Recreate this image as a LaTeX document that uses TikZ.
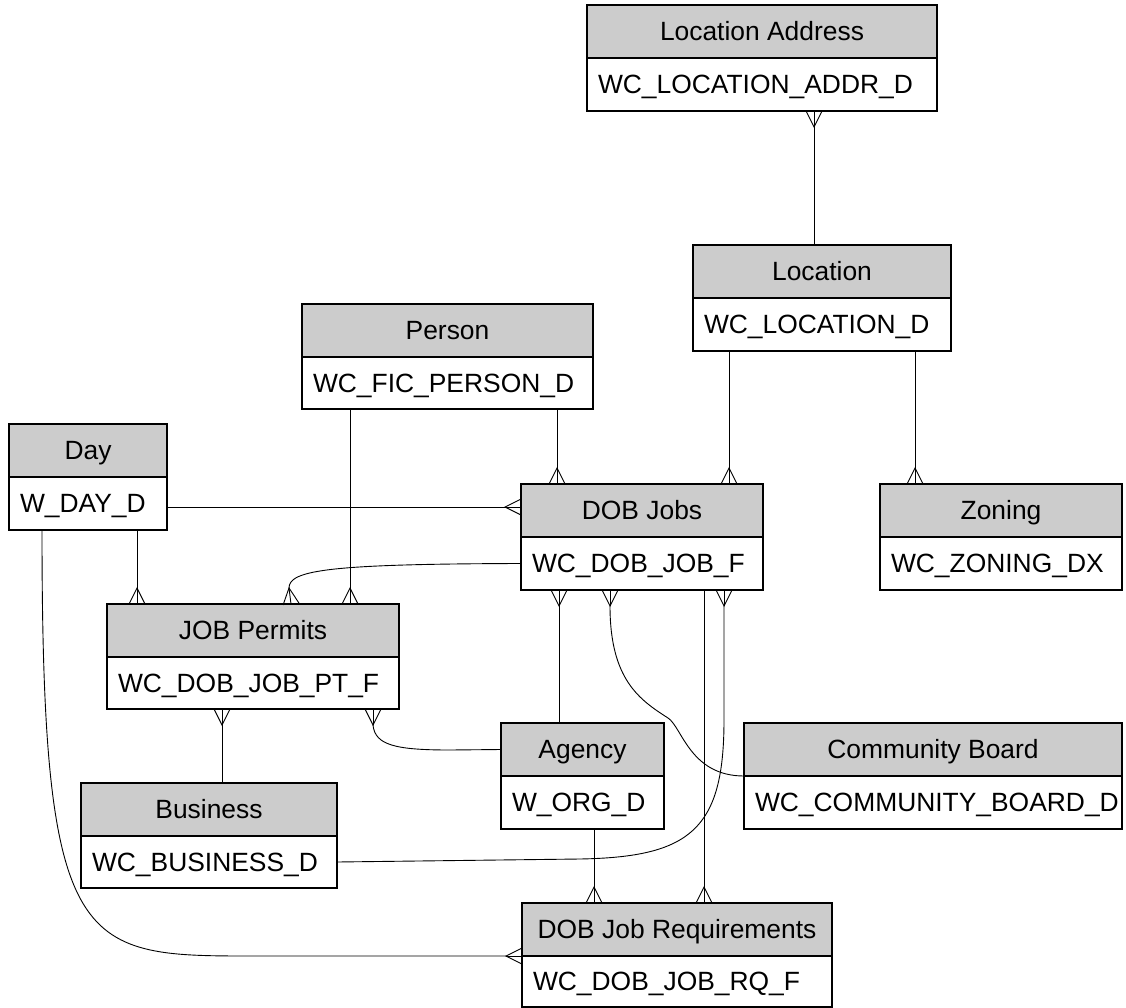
\documentclass[tikz,border=0pt]{standalone}
\usepackage{fontspec}
\setmainfont{Liberation Sans}
\usetikzlibrary{calc}
\definecolor{hdrgray}{RGB}{204,204,204}
\tikzset{
  box/.style={draw=black, line width=1.8pt, inner sep=0pt, outer sep=0pt, anchor=north west,
    font=\fontsize{26.4}{31}\selectfont, text height=18.9pt, text depth=0pt},
  hdr/.style={box, fill=hdrgray, align=center},
  bdy/.style={box, fill=white, inner xsep=11pt, align=left},
  conn/.style={draw=black, line width=0.9pt},
}
\newcommand\ent[8]{%
  \pgfmathsetmacro\entW{#4-#2}%
  \pgfmathsetmacro\entHa{#5-#3}%
  \pgfmathsetmacro\entHb{#6-#5}%
  \pgfmathsetmacro\entT{#4-#2-22}%
  \node[hdr, minimum width=\entW pt, minimum height=\entHa pt] (#1H) at (#2,#3) {#7};
  \node[bdy, minimum width=\entW pt, minimum height=\entHb pt, text width=\entT pt] (#1B) at (#1H.south west) {\mbox{#8}};
}
\newcommand\crowft[2]{%
  \draw[conn] (#1) -- (#2);
  \draw[conn] ($(#1)!8pt!90:(#2)$) -- (#2) -- ($(#1)!8pt!-90:(#2)$);
}
\begin{document}
\begin{tikzpicture}[x=1pt,y=-1pt]
\fill[white] (0,0) rectangle (1126,1008);
\useasboundingbox (0,0) rectangle (1126,1008);

\ent{la}{587}{5}{937}{58}{111}{Location Address}{WC\_LOCATION\_ADDR\_D}
\ent{loc}{693}{245}{951}{298}{351}{Location}{WC\_LOCATION\_D}
\ent{per}{302}{304}{593}{357}{409}{Person}{WC\_FIC\_PERSON\_D}
\ent{day}{9}{424}{167}{477}{530}{Day}{W\_DAY\_D}
\ent{dob}{521}{484}{763}{537}{590}{DOB Jobs}{WC\_DOB\_JOB\_F}
\ent{zon}{880}{484}{1122}{537}{590}{Zoning}{WC\_ZONING\_DX}
\ent{jp}{107}{604}{399}{657}{709}{JOB Permits}{WC\_DOB\_JOB\_PT\_F}
\ent{ag}{501}{723}{664}{776}{829}{Agency}{W\_ORG\_D}
\ent{cb}{744}{723}{1122}{776}{829}{Community Board}{WC\_COMMUNITY\_BOARD\_D}
\ent{bus}{81}{783}{337}{836}{888}{Business}{WC\_BUSINESS\_D}
\ent{djr}{522}{903}{832}{956}{1007}{DOB Job Requirements}{WC\_DOB\_JOB\_RQ\_F}

% 1 Location Address - Location
\coordinate (e1) at (laB.south -| 814,0);
\coordinate (t1) at ($(e1)+(0,16)$);
\draw[conn] (t1) -- (locH.north -| 814,0);
\crowft{e1}{t1}
% 2 Location - DOB Jobs
\coordinate (e2) at (dobH.north -| 729,0);
\coordinate (t2) at ($(e2)+(0,-16)$);
\draw[conn] (locB.south -| 729,0) -- (t2);
\crowft{e2}{t2}
% 3 Location - Zoning
\coordinate (e3) at (zonH.north -| 915,0);
\coordinate (t3) at ($(e3)+(0,-16)$);
\draw[conn] (locB.south -| 915,0) -- (t3);
\crowft{e3}{t3}
% 4 Person - JOB Permits
\coordinate (e4) at (jpH.north -| 350,0);
\coordinate (t4) at ($(e4)+(0,-16)$);
\draw[conn] (perB.south -| 350,0) -- (t4);
\crowft{e4}{t4}
% 5 Person - DOB Jobs
\coordinate (e5) at (dobH.north -| 557,0);
\coordinate (t5) at ($(e5)+(0,-16)$);
\draw[conn] (perB.south -| 557,0) -- (t5);
\crowft{e5}{t5}
% 6 Day - DOB Jobs
\coordinate (e6) at (dobH.west |- 0,507);
\coordinate (t6) at ($(e6)+(-16,0)$);
\draw[conn] (dayB.east |- 0,507) -- (t6);
\crowft{e6}{t6}
% 7 Day - JOB Permits
\coordinate (e7) at (jpH.north -| 137,0);
\coordinate (t7) at ($(e7)+(0,-16)$);
\draw[conn] (dayB.south -| 137,0) -- (t7);
\crowft{e7}{t7}
% 8 Day - DOB Job Requirements
\coordinate (e8) at (djrB.north west);
\coordinate (t8) at ($(e8)+(-16,0)$);
\draw[conn] (dayB.south -| 42,0) .. controls (42,960) and (80,956) .. (260,956) -- (t8);
\crowft{e8}{t8}
% 9 DOB Jobs - JOB Permits
\coordinate (e9) at (jpH.north -| 291,0);
\coordinate (t9) at ($(e9)+(-2,-16)$);
\draw[conn] (dobB.west) .. controls (330,564) and (289,570) .. (t9);
\crowft{e9}{t9}
% 10 DOB Jobs - Agency
\coordinate (e10) at (dobB.south -| 559,0);
\coordinate (t10) at ($(e10)+(0,16)$);
\draw[conn] (t10) -- (agH.north -| 559,0);
\crowft{e10}{t10}
% 11 DOB Jobs - Community Board
\coordinate (e11) at (dobB.south -| 610,0);
\coordinate (t11) at ($(e11)+(0,16)$);
\draw[conn] (t11) .. controls (610,680) and (640,700) .. (668,718)
  .. controls (682,727) and (690,776) .. (cbB.north west);
\crowft{e11}{t11}
% 12 DOB Jobs - DOB Job Requirements
\coordinate (e12) at (djrH.north -| 704,0);
\coordinate (t12) at ($(e12)+(0,-16)$);
\draw[conn] (dobB.south -| 704,0) -- (t12);
\crowft{e12}{t12}
% 13 DOB Jobs - Business
\coordinate (e13) at (dobB.south -| 724,0);
\coordinate (t13) at ($(e13)+(0,16)$);
\draw[conn] (t13) -- (724,720) .. controls (724,830) and (690,857) .. (580,859) -- (busB.east);
\crowft{e13}{t13}
% 14 JOB Permits - Business
\coordinate (e14) at (jpB.south -| 222,0);
\coordinate (t14) at ($(e14)+(0,16)$);
\draw[conn] (t14) -- (busH.north -| 222,0);
\crowft{e14}{t14}
% 15 JOB Permits - Agency
\coordinate (e15) at (jpB.south -| 373,0);
\coordinate (t15) at ($(e15)+(0,16)$);
\draw[conn] (t15) .. controls (375,745) and (395,750) .. (450,750) -- (agH.west);
\crowft{e15}{t15}
% 16 Agency - DOB Job Requirements
\coordinate (e16) at (djrH.north -| 594,0);
\coordinate (t16) at ($(e16)+(0,-16)$);
\draw[conn] (agB.south -| 594,0) -- (t16);
\crowft{e16}{t16}
\end{tikzpicture}
\end{document}
